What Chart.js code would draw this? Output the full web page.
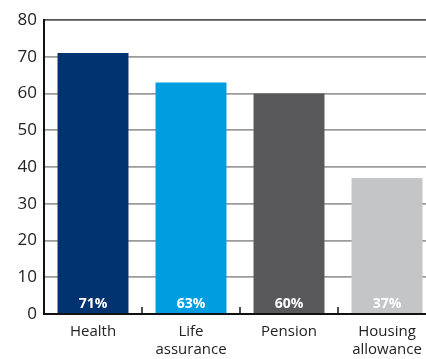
<!DOCTYPE html>
<html>
<head>
<meta charset="utf-8">
<script src="https://cdn.jsdelivr.net/npm/chart.js@4"></script>
<style>
  html, body { margin: 0; padding: 0; background: #fff; overflow: hidden; }
  #wrap { width: 436px; height: 359px; }
</style>
</head>
<body>
<div id="wrap"><canvas id="benefitsChart" width="436" height="359"></canvas></div>
<script>
const categories = [['Health'], ['Life', 'assurance'], ['Pension'], ['Housing', 'allowance']];
const shares = [71, 63, 60, 37];
const barColors = ['#00336f', '#009de0', '#59595b', '#c4c5c7'];
const yTicks = [0, 10, 20, 30, 40, 50, 60, 70, 80];

const FONT = '"Open Sans", "Noto Sans", sans-serif';

// white percentage text near the foot of each bar
const barLabels = {
    id: 'barLabels',
    afterDatasetsDraw(chart) {
        const ctx = chart.ctx;
        const meta = chart.getDatasetMeta(0);
        const y0 = chart.scales.y.getPixelForValue(0);
        ctx.save();
        ctx.fillStyle = '#ffffff';
        ctx.font = 'bold 14px ' + FONT;
        ctx.textAlign = 'center';
        ctx.textBaseline = 'middle';
        meta.data.forEach((bar, i) => {
            ctx.fillText(shares[i] + '%', bar.x, y0 - 10);
        });
        ctx.restore();
    }
};

// small upward ticks on the baseline between categories
const baseTicks = {
    id: 'baseTicks',
    afterDatasetsDraw(chart) {
        const ctx = chart.ctx;
        const x = chart.scales.x;
        const y0 = chart.scales.y.getPixelForValue(0);
        ctx.save();
        ctx.strokeStyle = '#111';
        ctx.lineWidth = 1.5;
        for (let i = 0; i < categories.length - 1; i++) {
            const px = Math.round((x.getPixelForTick(i) + x.getPixelForTick(i + 1)) / 2);
            ctx.beginPath();
            ctx.moveTo(px, y0);
            ctx.lineTo(px, y0 - 7);
            ctx.stroke();
        }
        ctx.restore();
    }
};

new Chart(document.getElementById('benefitsChart'), {
    type: 'bar',
    data: {
        labels: categories,
        datasets: [{
            data: shares,
            backgroundColor: barColors,
            borderWidth: 0,
            barPercentage: 0.724,
            categoryPercentage: 1.0
        }]
    },
    options: {
        responsive: false,
        animation: false,
        layout: { padding: { top: 20, left: 0, right: 0, bottom: 0 } },
        plugins: {
            legend: { display: false },
            tooltip: { enabled: false }
        },
        scales: {
            x: {
                grid: { display: false, drawTicks: false },
                border: { color: '#111', width: 2 },
                ticks: {
                    color: '#222',
                    font: { family: FONT, size: 15 },
                    padding: 9,
                    maxRotation: 0
                },
                afterFit(scale) { scale.height = 45; }
            },
            y: {
                min: 0,
                max: 80,
                afterBuildTicks(scale) {
                    scale.ticks = yTicks.map(v => ({ value: v }));
                },
                grid: {
                    drawTicks: false,
                    lineWidth: 1.8,
                    color: ctx => ctx.tick && ctx.tick.value === 80 ? '#555' : '#9b9b9b'
                },
                border: { color: '#111', width: 2 },
                ticks: {
                    color: '#222',
                    font: { family: FONT, size: 17 },
                    padding: 7
                },
                afterFit(scale) { scale.width = 44; }
            }
        }
    },
    plugins: [barLabels, baseTicks]
});
</script>
</body>
</html>
